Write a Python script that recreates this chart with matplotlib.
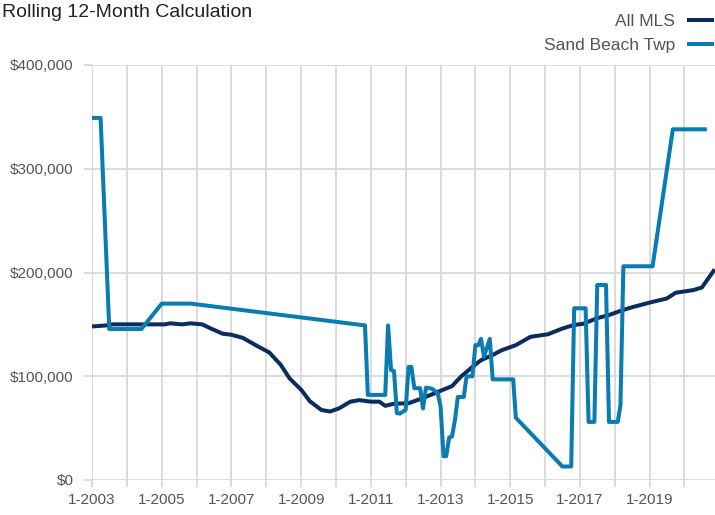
import matplotlib
matplotlib.use('Agg')
import matplotlib.pyplot as plt
import pandas as pd

plt.rcParams['font.family'] = ['Liberation Sans Narrow', 'Liberation Sans', 'DejaVu Sans']

# rolling 12-month median price, monthly
mls_months = ['2003-01', '2003-06', '2003-08', '2005-02', '2005-04', '2005-08', '2005-11',
              '2006-03', '2006-06', '2006-10', '2007-01', '2007-05', '2007-10', '2008-02',
              '2008-06', '2008-09', '2009-01', '2009-04', '2009-08', '2009-11', '2010-02',
              '2010-06', '2010-09', '2011-01', '2011-04', '2011-06', '2011-09', '2012-02',
              '2012-07', '2013-01', '2013-05', '2013-08', '2013-12', '2014-03', '2014-07',
              '2014-10', '2015-03', '2015-08', '2016-02', '2016-07', '2016-11', '2017-02',
              '2017-07', '2017-11', '2018-04', '2018-07', '2019-01', '2019-07', '2019-10',
              '2020-04', '2020-07', '2020-11']
mls_values = [148000, 149000, 150000, 150000, 151000, 150000, 151000,
              150000, 146000, 141000, 140000, 137000, 129000, 123000,
              111000, 98000, 87000, 76000, 67500, 66000, 69000,
              75500, 77000, 75500, 75500, 71500, 73500, 74000,
              79000, 86000, 90500, 99500, 109000, 115500, 120500,
              125000, 130000, 138000, 140500, 146000, 149500, 150500,
              156000, 159000, 164000, 166500, 171000, 175000, 180500,
              183000, 185500, 201500]

sand_months = ['2003-01', '2003-04', '2003-07', '2004-06', '2005-01', '2005-11', '2010-11',
               '2010-12', '2011-06', '2011-07', '2011-08', '2011-09', '2011-10', '2011-11',
               '2012-01', '2012-02', '2012-03', '2012-04', '2012-06', '2012-07', '2012-08',
               '2012-10', '2012-12', '2013-01', '2013-02', '2013-03', '2013-04', '2013-05',
               '2013-06', '2013-07', '2013-09', '2013-10', '2013-12', '2014-01', '2014-02',
               '2014-03', '2014-04', '2014-06', '2014-07', '2015-02', '2015-03', '2016-07',
               '2016-10', '2016-11', '2017-03', '2017-04', '2017-06', '2017-07', '2017-10',
               '2017-11', '2018-02', '2018-03', '2018-04', '2019-02', '2019-09', '2020-08']
sand_values = [349000, 349000, 145500, 145500, 170000, 170000, 149000,
               82000, 82000, 149000, 106000, 105000, 64500, 64000,
               67500, 109000, 109000, 88500, 88500, 69000, 89000,
               88000, 84000, 71000, 23000, 23000, 41000, 42000,
               58000, 80000, 80000, 100000, 100000, 130000, 130000,
               136000, 119000, 136000, 97000, 97000, 60000, 13000,
               13000, 165500, 165500, 56000, 56000, 188000, 188000,
               56000, 56000, 72000, 206000, 206000, 338000, 338000]

yticks = [0, 100000, 200000, 300000, 400000]

mls_dates = pd.to_datetime(mls_months)
sand_dates = pd.to_datetime(sand_months)

fig = plt.figure(figsize=(7.15, 5.15), dpi=100)
ax = fig.add_axes([92 / 715, 35 / 515, 623 / 715, 415 / 515])

ax.plot(mls_dates, mls_values, color='#0b2d5e', lw=2.9, label='All MLS')
ax.plot(sand_dates, sand_values, color='#0a7cb2', lw=2.9, label='Sand Beach Twp')

ax.set_ylim(0, 400000)
ax.set_xlim(pd.Timestamp('2003-01-01'), pd.Timestamp('2020-11-16'))
ax.set_yticks(yticks)
ax.set_yticklabels(['${:,}'.format(v) for v in yticks])

years = pd.date_range('2003-01-01', '2020-01-01', freq='YS')
ax.set_xticks(years)
ax.set_xticklabels([('1-%d' % d.year) if d.year % 2 == 1 else '' for d in years])

ax.grid(True, color='#d9d9d9', lw=1.3)
ax.set_axisbelow(True)
for s in ax.spines.values():
    s.set_visible(False)
ax.tick_params(axis='y', length=6, width=1.3, color='#d9d9d9', pad=7, labelsize=11, labelcolor='#555555')
ax.tick_params(axis='x', length=5, width=1.3, color='#d9d9d9', pad=4, labelsize=11, labelcolor='#555555')

fig.text(0.003, 0.975, 'Rolling 12-Month Calculation', fontsize=14, color='#222222', va='center', ha='left')

fig.legend(loc='upper right', bbox_to_anchor=(1.01, 0.994), frameon=False, markerfirst=False,
           fontsize=12.5, handlelength=1.3, handletextpad=0.8, labelspacing=0.55,
           labelcolor='#555555', borderaxespad=0.2)

fig.savefig('out.png', dpi=100)
